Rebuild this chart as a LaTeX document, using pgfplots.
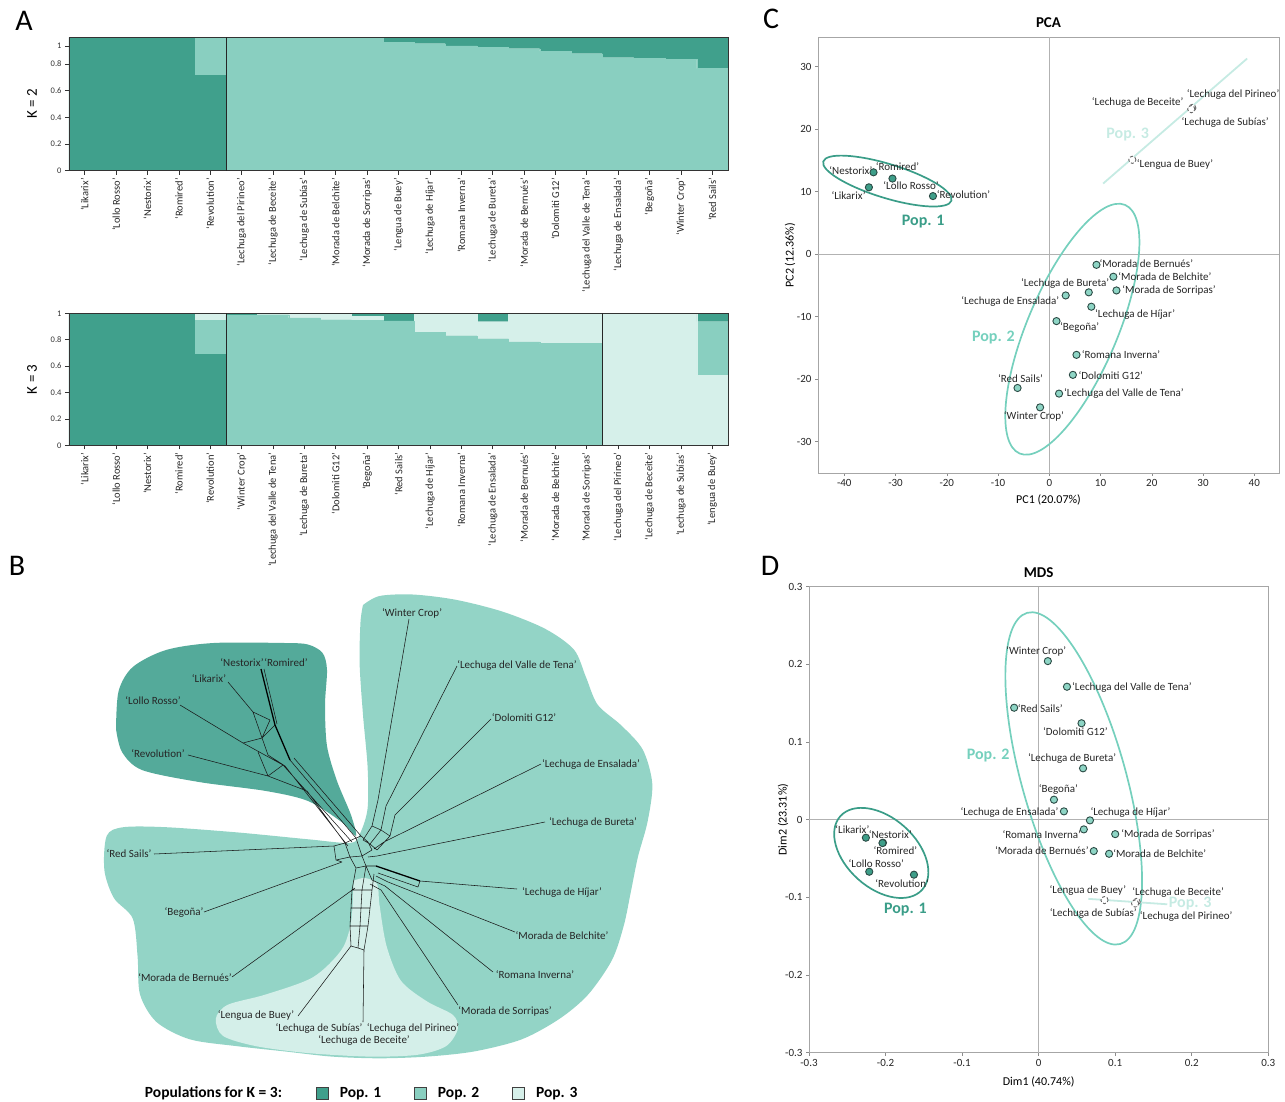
\documentclass[border=0pt]{standalone}
\usepackage{fontspec}
\setmainfont{Carlito}
\usepackage{pgfplots}
\usepackage{pgfplotstable}
\pgfplotsset{compat=1.18}

\definecolor{popA}{HTML}{40A08C}
\definecolor{popB}{HTML}{89CFC0}
\definecolor{popC}{HTML}{D6F0EA}
\definecolor{regA}{HTML}{54AA9A}
\definecolor{regB}{HTML}{93D4C6}
\definecolor{regC}{HTML}{D4EFE9}
\definecolor{ellA}{HTML}{3A9D88}
\definecolor{ellB}{HTML}{75D0BD}
\definecolor{popCl}{HTML}{C6EBE3}
\definecolor{ptA}{HTML}{3E9E89}
\definecolor{ptB}{HTML}{8ED5C5}
\definecolor{ptline}{HTML}{2B4A44}

\pgfplotsset{every axis/.append style={/pgf/number format/assume math mode=true}}

\tikzset{
  lab/.style={font=\fontsize{11}{12}\selectfont, inner sep=0pt, text=black!85},
  blab/.style={font=\fontsize{11}{12}\selectfont, inner sep=0pt, text=black!85},
  poplab/.style={font=\bfseries\fontsize{16}{17}\selectfont, inner sep=0pt},
  ell1/.style={draw=ellA, line width=1.7pt},
  ell2/.style={draw=ellB, line width=1.7pt},
  letter/.style={font=\fontsize{30}{30}\selectfont, inner sep=0pt},
}
\pgfplotsset{
  p1/.style={only marks, mark=*, mark size=3.6pt, mark options={fill=ptA, draw=ptline, line width=0.9pt}},
  p2/.style={only marks, mark=*, mark size=3.6pt, mark options={fill=ptB, draw=ptline, line width=0.9pt}},
  p3/.style={only marks, mark=*, mark size=3.6pt, mark options={fill=white, draw=black!60, line width=0.9pt, densely dashed}},
  abar/.style={axis on top, scale only axis, width=659pt, xmin=0, xmax=21, ymin=0, ymax=1,
    ybar stacked, bar width=1,
    axis line style={draw=black!80, line width=0.8pt},
    xtick={0.5,1.5,...,20.5}, xtick pos=left, ytick pos=left, tick align=outside,
    major tick length=4pt, tick style={black!80, line width=0.6pt},
    xticklabel style={rotate=90, anchor=east, font=\fontsize{10.5}{11}\selectfont, text=black!85},
    ytick={0,0.2,0.4,0.6,0.8,0.935}, yticklabels={0,0.2,0.4,0.6,0.8,1},
    yticklabel style={font=\fontsize{8.5}{9}\selectfont, text=black!80},
    ylabel style={font=\fontsize{15}{16}\selectfont, at={(axis description cs:-0.0561,0.5)}, anchor=center},
    extra tick style={grid=major, major grid style={black!85, line width=0.8pt}, major tick length=0pt},
  },
  sc/.style={scale only axis, clip=false,
    axis line style={black!35, line width=0.8pt},
    xtick pos=left, ytick pos=left, tick align=outside, major tick length=3pt,
    tick style={black!45, line width=0.6pt},
    tick label style={font=\fontsize{11}{12}\selectfont, text=black!85},
    extra x ticks={0}, extra y ticks={0}, extra x tick labels={}, extra y tick labels={},
    extra tick style={grid=major, major grid style={black!30, line width=0.8pt}, major tick length=0pt},
    title style={font=\bfseries\fontsize{15}{16}\selectfont, anchor=center, yshift=-6pt},
    xlabel style={font=\fontsize{12}{13}\selectfont, anchor=center},
    ylabel style={font=\fontsize{12}{13}\selectfont, anchor=center},
  },
}

\pgfplotstableread{
x d1 m d2
0.5 1 0 0
1.5 1 0 0
2.5 1 0 0
3.5 1 0 0
4.5 0.717 0.283 0
5.5 0 1 0
6.5 0 1 0
7.5 0 1 0
8.5 0 1 0
9.5 0 1 0
10.5 0 0.962 0.038
11.5 0 0.952 0.048
12.5 0 0.935 0.065
13.5 0 0.925 0.075
14.5 0 0.915 0.085
15.5 0 0.897 0.103
16.5 0 0.877 0.123
17.5 0 0.847 0.153
18.5 0 0.842 0.158
19.5 0 0.837 0.163
20.5 0 0.767 0.233
}\Ktwo

\pgfplotstableread{
x d1 l1 m l2 d2
0.5 1 0 0 0 0
1.5 1 0 0 0 0
2.5 1 0 0 0 0
3.5 1 0 0 0 0
4.5 0.689 0 0.260 0.051 0
5.5 0 0 0.985 0 0.015
6.5 0 0 0.990 0.010 0
7.5 0 0 0.965 0.035 0
8.5 0 0 0.952 0.048 0
9.5 0 0 0.947 0.028 0.025
10.5 0 0 0.942 0 0.058
11.5 0 0 0.856 0.144 0
12.5 0 0 0.831 0.169 0
13.5 0 0 0.808 0.129 0.063
14.5 0 0 0.783 0.217 0
15.5 0 0 0.773 0.227 0
16.5 0 0 0.773 0.227 0
17.5 0 1 0 0 0
18.5 0 1 0 0 0
19.5 0 1 0 0 0
20.5 0 0.528 0.409 0 0.063
}\Kthree

\begin{document}
\begin{tikzpicture}
\useasboundingbox (0,0) rectangle (1285pt,1101pt);

% ---------------- Panel A, K = 2
\begin{axis}[abar, at={(69pt,930.3pt)}, anchor=south west, height=133.4pt,
  ylabel={K = 2}, extra x ticks={5}, extra x tick labels={},
  xticklabels={‘Likarix’,‘Lollo Rosso’,‘Nestorix’,‘Romired’,‘Revolution’,‘Lechuga del Pirineo’,‘Lechuga de Beceite’,‘Lechuga de Subías’,‘Morada de Belchite’,‘Morada de Sorripas’,‘Lengua de Buey’,‘Lechuga de Híjar’,‘Romana Inverna’,‘Lechuga de Bureta’,‘Morada de Bernués’,‘Dolomiti G12’,‘Lechuga del Valle de Tena’,‘Lechuga de Ensalada’,‘Begoña’,‘Winter Crop’,‘Red Sails’}]
\addplot[fill=popA, draw=popA, line width=0.2pt] table[x=x,y=d1]{\Ktwo};
\addplot[fill=popB, draw=popB, line width=0.2pt] table[x=x,y=m]{\Ktwo};
\addplot[fill=popA, draw=popA, line width=0.2pt] table[x=x,y=d2]{\Ktwo};
\end{axis}

% ---------------- Panel A, K = 3
\begin{axis}[abar, at={(69pt,655.7pt)}, anchor=south west, height=132pt,
  ylabel={K = 3}, extra x ticks={5,17}, extra x tick labels={},
  ytick={0,0.2,0.4,0.6,0.8,1}, yticklabels={0,0.2,0.4,0.6,0.8,1},
  xticklabels={‘Likarix’,‘Lollo Rosso’,‘Nestorix’,‘Romired’,‘Revolution’,‘Winter Crop’,‘Lechuga del Valle de Tena’,‘Lechuga de Bureta’,‘Dolomiti G12’,‘Begoña’,‘Red Sails’,‘Lechuga de Híjar’,‘Romana Inverna’,‘Lechuga de Ensalada’,‘Morada de Bernués’,‘Morada de Belchite’,‘Morada de Sorripas’,‘Lechuga del Pirineo’,‘Lechuga de Beceite’,‘Lechuga de Subías’,‘Lengua de Buey’}]
\addplot[fill=popA, draw=popA, line width=0.2pt] table[x=x,y=d1]{\Kthree};
\addplot[fill=popC, draw=popC, line width=0.2pt] table[x=x,y=l1]{\Kthree};
\addplot[fill=popB, draw=popB, line width=0.2pt] table[x=x,y=m]{\Kthree};
\addplot[fill=popC, draw=popC, line width=0.2pt] table[x=x,y=l2]{\Kthree};
\addplot[fill=popA, draw=popA, line width=0.2pt] table[x=x,y=d2]{\Kthree};
\end{axis}

% ---------------- Panel B (network)
\begin{axis}[at={(0pt,0pt)}, anchor=south west, scale only axis, width=740pt, height=541pt,
  xmin=0, xmax=740, ymin=560, ymax=1101, y dir=reverse, hide axis, clip=false,
  legend columns=-1,
  legend style={at={(axis description cs:0.605,0.0148)}, anchor=center, draw=none, fill=none,
    font=\bfseries\fontsize{15.5}{16}\selectfont,
    /tikz/every odd column/.append style={column sep=9pt},
    /tikz/every even column/.append style={column sep=31pt}}]
% regions
\addplot[forget plot, fill=regB, draw=none, smooth, tension=0.5] coordinates {
(363,605) (379.5,596) (412.7,594.5) (455.4,599.7) (502.8,611.7) (545.5,629) (574,649.7) (585.9,677) (597.7,704.8) (621.4,725.5) (642.8,749.7) (652.3,784) (647.5,822) (638,856.6) (631,891) (623.8,925.5) (612,960) (588.2,994.5) (559.8,1018.6) (521.8,1039.3) (474.4,1051.4) (427,1056.6) (379.5,1058.3) (332,1056.6) (284.6,1051.4) (237.2,1046.2) (189.8,1039.3) (156.5,1022) (140,994.5) (137.6,956.6) (132.8,918.6) (113.9,898) (104.4,870.3) (106.7,835.9) (123.3,827.2) (166,827.2) (237.2,832.4) (308.3,839.3) (351,842.8) (360.5,832.4) (367.6,808.3) (367.6,767) (363,715) (359.6,663.4) (360.5,622) (363,605)};
\addplot[forget plot, fill=regA, draw=none, smooth, tension=0.5] coordinates {
(116,729) (118.6,691) (132.8,667) (166,650) (213.5,643) (284.6,643) (308,644.5) (322.6,653) (327,670) (325,705) (327,746) (337,781) (351,815) (356,836) (341.6,822) (308,801) (266,791) (199,782) (142,770) (122,752) (116,729)};
\addplot[forget plot, fill=regC, draw=none, smooth, tension=0.5] coordinates {
(353.4,880.7) (353.4,887.6) (351,922) (341.6,949.7) (313,977.2) (265.7,994.5) (227.7,1004.8) (215.8,1018.6) (223,1035.9) (256.2,1046.2) (308.3,1053.1) (370,1056.6) (417.5,1054.8) (446,1046.2) (457.8,1029) (453,1015) (427,1001.4) (400.9,980.7) (386.6,946.2) (379.5,904.8) (377.1,884.1) (365,878) (353.4,880.7)};
% network
\addplot[forget plot, black!90, line width=0.55pt, unbounded coords=jump] coordinates {
(409,619)(378,800) (nan,nan)
(457,666)(386,806) (nan,nan)
(491,719)(395,815) (nan,nan)
(541,764)(384,842) (nan,nan)
(545,822)(377,856) (nan,nan)
(517,889)(420,881) (nan,nan)
(515,932)(388,882) (nan,nan)
(493,972)(385,886) (nan,nan)
(458,1005)(381,890) (nan,nan)
(363,1022)(364,950) (nan,nan)
(298,1016)(351,946) (nan,nan)
(232,977)(355,888) (nan,nan)
(204,912)(342,862) (nan,nan)
(154,854)(334,846) (nan,nan)
(188,755)(268,776)(307,791) (nan,nan)
(180,705)(243,743)(283,765) (nan,nan)
(228,682)(253,712)(270,720) (nan,nan)
(264,669)(277,724) (nan,nan)
(253,712)(268,755)(285,766) (nan,nan)
(243,743)(262,738)(275,725) (nan,nan)
(262,738)(270,720) (nan,nan)
(268,776)(283,765) (nan,nan)
(258,752)(268,776) (nan,nan)
(283,765)(352,842) (nan,nan)
(290,760)(356,838) (nan,nan)
(285,766)(348,846) (nan,nan)
(294,758)(361,836) (nan,nan)
(307,791)(345,843) (nan,nan)
(334,846)(345,843)(356,838)(361,836)(368,842)(372,850) (nan,nan)
(336,860)(350,857)(362,856)(372,850) (nan,nan)
(334,846)(336,860) (nan,nan)
(345,843)(350,857) (nan,nan)
(356,838)(362,856) (nan,nan)
(342,862)(336,860) (nan,nan)
(362,856)(366,866)(376,866) (nan,nan)
(350,857)(356,868)(366,866) (nan,nan)
(378,800)(372,826)(363,840) (nan,nan)
(386,806)(381,830)(370,844) (nan,nan)
(395,815)(390,836)(377,850) (nan,nan)
(372,826)(381,830)(390,836) (nan,nan)
(363,840)(370,844)(377,850) (nan,nan)
(384,842)(374,849) (nan,nan)
(377,856)(368,857) (nan,nan)
(378,873)(418,887) (nan,nan)
(420,881)(418,887) (nan,nan)
(388,882)(376,876) (nan,nan)
(385,886)(372,880) (nan,nan)
(381,890)(370,884) (nan,nan)
(366,866)(372,880) (nan,nan)
(356,868)(352,890)(350,926)(351,946) (nan,nan)
(366,866)(362,890)(360,926)(358,948) (nan,nan)
(374,874)(372,890)(368,926)(364,950) (nan,nan)
(352,890)(372,890) (nan,nan)
(351,908)(370,908) (nan,nan)
(350,926)(368,926) (nan,nan)
(351,946)(358,948)(364,950) (nan,nan)
(355,888)(352,890)};
\addplot[forget plot, black, line width=1.3pt, unbounded coords=jump] coordinates {
(261,669)(275,725)(290,760) (nan,nan) (376,866)(420,881)};
% labels
\node[blab] at (axis cs:412,613) {‘Winter Crop’};
\node[blab] at (axis cs:517,665) {‘Lechuga del Valle de Tena’};
\node[blab] at (axis cs:524,718) {‘Dolomiti G12’};
\node[blab] at (axis cs:591,764) {‘Lechuga de Ensalada’};
\node[blab] at (axis cs:593,822) {‘Lechuga de Bureta’};
\node[blab] at (axis cs:562,892) {‘Lechuga de Híjar’};
\node[blab] at (axis cs:562,936) {‘Morada de Belchite’};
\node[blab] at (axis cs:535,975) {‘Romana Inverna’};
\node[blab] at (axis cs:505,1011) {‘Morada de Sorripas’};
\node[blab] at (axis cs:413,1028) {‘Lechuga del Pirineo’};
\node[blab] at (axis cs:319,1028) {‘Lechuga de Subías’};
\node[blab] at (axis cs:364,1040) {‘Lechuga de Beceite’};
\node[blab] at (axis cs:256,1015) {‘Lengua de Buey’};
\node[blab] at (axis cs:185,978) {‘Morada de Bernués’};
\node[blab] at (axis cs:184,912) {‘Begoña’};
\node[blab] at (axis cs:129,854) {‘Red Sails’};
\node[blab] at (axis cs:158,754) {‘Revolution’};
\node[blab] at (axis cs:153,701) {‘Lollo Rosso’};
\node[blab] at (axis cs:209,679) {‘Likarix’};
\node[blab] at (axis cs:242,663) {‘Nestorix’};
\node[blab] at (axis cs:286,663) {‘Romired’};
\node[font=\bfseries\fontsize{15.5}{16}\selectfont, inner sep=0pt] at (axis cs:213.5,1093) {Populations for K = 3:};
\addlegendimage{legend image code/.code={\draw[fill=popA, draw=black!75, line width=0.8pt] (0pt,-6pt) rectangle (12pt,6pt);}}
\addlegendentry{Pop. 1}
\addlegendimage{legend image code/.code={\draw[fill=popB, draw=black!75, line width=0.8pt] (0pt,-6pt) rectangle (12pt,6pt);}}
\addlegendentry{Pop. 2}
\addlegendimage{legend image code/.code={\draw[fill=popC, draw=black!75, line width=0.8pt] (0pt,-6pt) rectangle (12pt,6pt);}}
\addlegendentry{Pop. 3}
\end{axis}

% ---------------- Panel C (PCA)
\begin{axis}[sc, at={(818pt,628pt)}, anchor=south west, width=461pt, height=435.7pt,
  xmin=-45.13, xmax=44.82, ymin=-35, ymax=34.7,
  xtick={-40,-30,...,40}, ytick={-30,-20,...,30},
  title={PCA}, title style={at={(axis description cs:0.5,1.0335)}},
  xlabel={PC1 (20.07\%)}, xlabel style={at={(axis description cs:0.5,-0.062)}},
  ylabel={PC2 (12.36\%)}, ylabel style={at={(axis description cs:-0.0607,0.5)}}]
\draw[ell1, rotate around={-17:(axis cs:-31.6,11.7)}] (axis cs:-31.6,11.7) ellipse [x radius=67pt, y radius=17pt];
\draw[ell2, rotate around={67:(axis cs:4.5,-12)}] (axis cs:4.5,-12) ellipse [x radius=135pt, y radius=45pt];
\addplot[popCl, line width=1.8pt] coordinates {(10.5,11.3) (38.6,31.3)};
\addplot[p1] coordinates {(-34.3,13.1) (-30.6,12.1) (-35.2,10.7) (-22.7,9.3)};
\addplot[p2] coordinates {(9.2,-1.7) (12.5,-3.6) (13.1,-5.8) (7.7,-6.1) (3.2,-6.6) (8.2,-8.4) (1.4,-10.7) (5.3,-16.1) (4.6,-19.3) (-6.2,-21.4) (1.9,-22.3) (-1.8,-24.5)};
\addplot[p3] coordinates {(16.2,15.1) (27.8,23.3) (27.9,23.4) (27.7,23.2)};
\node[poplab, text=ellA] at (axis cs:-24.6,5.3) {Pop. 1};
\node[poplab, text=ellB] at (axis cs:-10.9,-13.3) {Pop. 2};
\node[poplab, text=popCl] at (axis cs:15.3,19.2) {Pop. 3};
\node[lab,anchor=east] at (axis cs:-34.46,13.36) {‘Nestorix’};
\node[lab,anchor=west] at (axis cs:-33.9,14.0) {‘Romired’};
\node[lab,anchor=west] at (axis cs:-32.4,11.0) {‘Lollo Rosso’};
\node[lab,anchor=east] at (axis cs:-35.8,9.3) {‘Likarix’};
\node[lab,anchor=west] at (axis cs:-22.0,9.5) {‘Revolution’};
\node[lab,anchor=west] at (axis cs:26.8,25.5) {‘Lechuga del Pirineo’};
\node[lab,anchor=east] at (axis cs:26.2,24.2) {‘Lechuga de Beceite’};
\node[lab,anchor=west] at (axis cs:25.8,21.0) {‘Lechuga de Subías’};
\node[lab,anchor=west] at (axis cs:17.05,14.3) {‘Lengua de Buey’};
\node[lab,anchor=west] at (axis cs:9.76,-1.57) {‘Morada de Bernués’};
\node[lab,anchor=west] at (axis cs:13.46,-3.6) {‘Morada de Belchite’};
\node[lab,anchor=west] at (axis cs:14.24,-5.78) {‘Morada de Sorripas’};
\node[lab,anchor=east] at (axis cs:11.7,-4.66) {‘Lechuga de Bureta’};
\node[lab,anchor=east] at (axis cs:1.95,-7.49) {‘Lechuga de Ensalada’};
\node[lab,anchor=west] at (axis cs:8.92,-9.57) {‘Lechuga de Híjar’};
\node[lab,anchor=west] at (axis cs:2.09,-11.8) {‘Begoña’};
\node[lab,anchor=west] at (axis cs:6.32,-16.13) {‘Romana Inverna’};
\node[lab,anchor=west] at (axis cs:5.66,-19.4) {‘Dolomiti G12’};
\node[lab] at (axis cs:-5.62,-19.9) {‘Red Sails’};
\node[lab,anchor=west] at (axis cs:2.87,-22.3) {‘Lechuga del Valle de Tena’};
\node[lab] at (axis cs:-3.0,-26.0) {‘Winter Crop’};
\end{axis}

% ---------------- Panel D (MDS)
\begin{axis}[sc, at={(809pt,48.3pt)}, anchor=south west, width=459.3pt, height=466.2pt,
  xmin=-0.3, xmax=0.3, ymin=-0.3, ymax=0.3,
  xtick={-0.3,-0.2,-0.1,0,0.1,0.2,0.3}, ytick={-0.3,-0.2,-0.1,0,0.1,0.2,0.3},
  title={MDS}, title style={at={(axis description cs:0.5,1.0296)}},
  xlabel={Dim1 (40.74\%)}, xlabel style={at={(axis description cs:0.5,-0.0622)}},
  ylabel={Dim2 (23.31\%)}, ylabel style={at={(axis description cs:-0.0566,0.5)}}]
\draw[ell1, rotate around={-42:(axis cs:-0.2056,-0.0429)}] (axis cs:-0.2056,-0.0429) ellipse [x radius=55pt, y radius=35pt];
\draw[ell2, rotate around={-74.3:(axis cs:0.0458,0.053)}] (axis cs:0.0458,0.053) ellipse [x radius=172pt, y radius=52pt];
\addplot[popCl, line width=1.8pt] coordinates {(0.065,-0.102) (0.168,-0.109)};
\addplot[p1] coordinates {(-0.2257,-0.0233) (-0.2034,-0.0298) (-0.2040,-0.0302) (-0.2213,-0.0671) (-0.1629,-0.0709)};
\addplot[p2] coordinates {(0.012,0.204) (0.037,0.171) (-0.032,0.144) (0.056,0.124) (0.058,0.066) (0.020,0.0256) (0.033,0.0106) (0.067,-0.001) (0.059,-0.0126) (0.100,-0.0187) (0.072,-0.0405) (0.092,-0.044)};
\addplot[p3] coordinates {(0.086,-0.1036) (0.127,-0.107) (0.128,-0.106) (0.126,-0.108)};
\node[poplab, text=ellA] at (axis cs:-0.174,-0.116) {Pop. 1};
\node[poplab, text=ellB] at (axis cs:-0.066,0.082) {Pop. 2};
\node[poplab, text=popCl] at (axis cs:0.198,-0.108) {Pop. 3};
\node[lab] at (axis cs:-0.0032,0.2165) {‘Winter Crop’};
\node[lab,anchor=west] at (axis cs:0.0436,0.1706) {‘Lechuga del Valle de Tena’};
\node[lab,anchor=west] at (axis cs:-0.0274,0.1431) {‘Red Sails’};
\node[lab] at (axis cs:0.048,0.1127) {‘Dolomiti G12’};
\node[lab] at (axis cs:0.0436,0.0788) {‘Lechuga de Bureta’};
\node[lab] at (axis cs:0.0257,0.0385) {‘Begoña’};
\node[lab,anchor=east] at (axis cs:0.0261,0.0097) {‘Lechuga de Ensalada’};
\node[lab,anchor=west] at (axis cs:0.0676,0.0097) {‘Lechuga de Híjar’};
\node[lab,anchor=east] at (axis cs:0.0554,-0.019) {‘Romana Inverna’};
\node[lab,anchor=west] at (axis cs:0.1077,-0.019) {‘Morada de Sorripas’};
\node[lab,anchor=east] at (axis cs:0.0654,-0.0405) {‘Morada de Bernués’};
\node[lab,anchor=west] at (axis cs:0.0972,-0.0439) {‘Morada de Belchite’};
\node[lab] at (axis cs:0.0643,-0.0911) {‘Lengua de Buey’};
\node[lab,anchor=west] at (axis cs:0.1221,-0.0933) {‘Lechuga de Beceite’};
\node[lab] at (axis cs:0.0713,-0.1211) {‘Lechuga de Subías’};
\node[lab,anchor=west] at (axis cs:0.132,-0.1242) {‘Lechuga del Pirineo’};
\node[lab,anchor=west] at (axis cs:-0.2658,-0.0126) {‘Likarix’};
\node[lab,anchor=west] at (axis cs:-0.2222,-0.019) {‘Nestorix’};
\node[lab,anchor=west] at (axis cs:-0.2157,-0.0396) {‘Romired’};
\node[lab,anchor=west] at (axis cs:-0.2484,-0.056) {‘Lollo Rosso’};
\node[lab,anchor=west] at (axis cs:-0.2135,-0.0825) {‘Revolution’};
\end{axis}

% panel letters
\node[letter] at (24pt,1080pt) {A};
\node[letter] at (17pt,535pt) {B};
\node[letter] at (771pt,1082pt) {C};
\node[letter] at (770pt,535pt) {D};
\end{tikzpicture}
\end{document}
